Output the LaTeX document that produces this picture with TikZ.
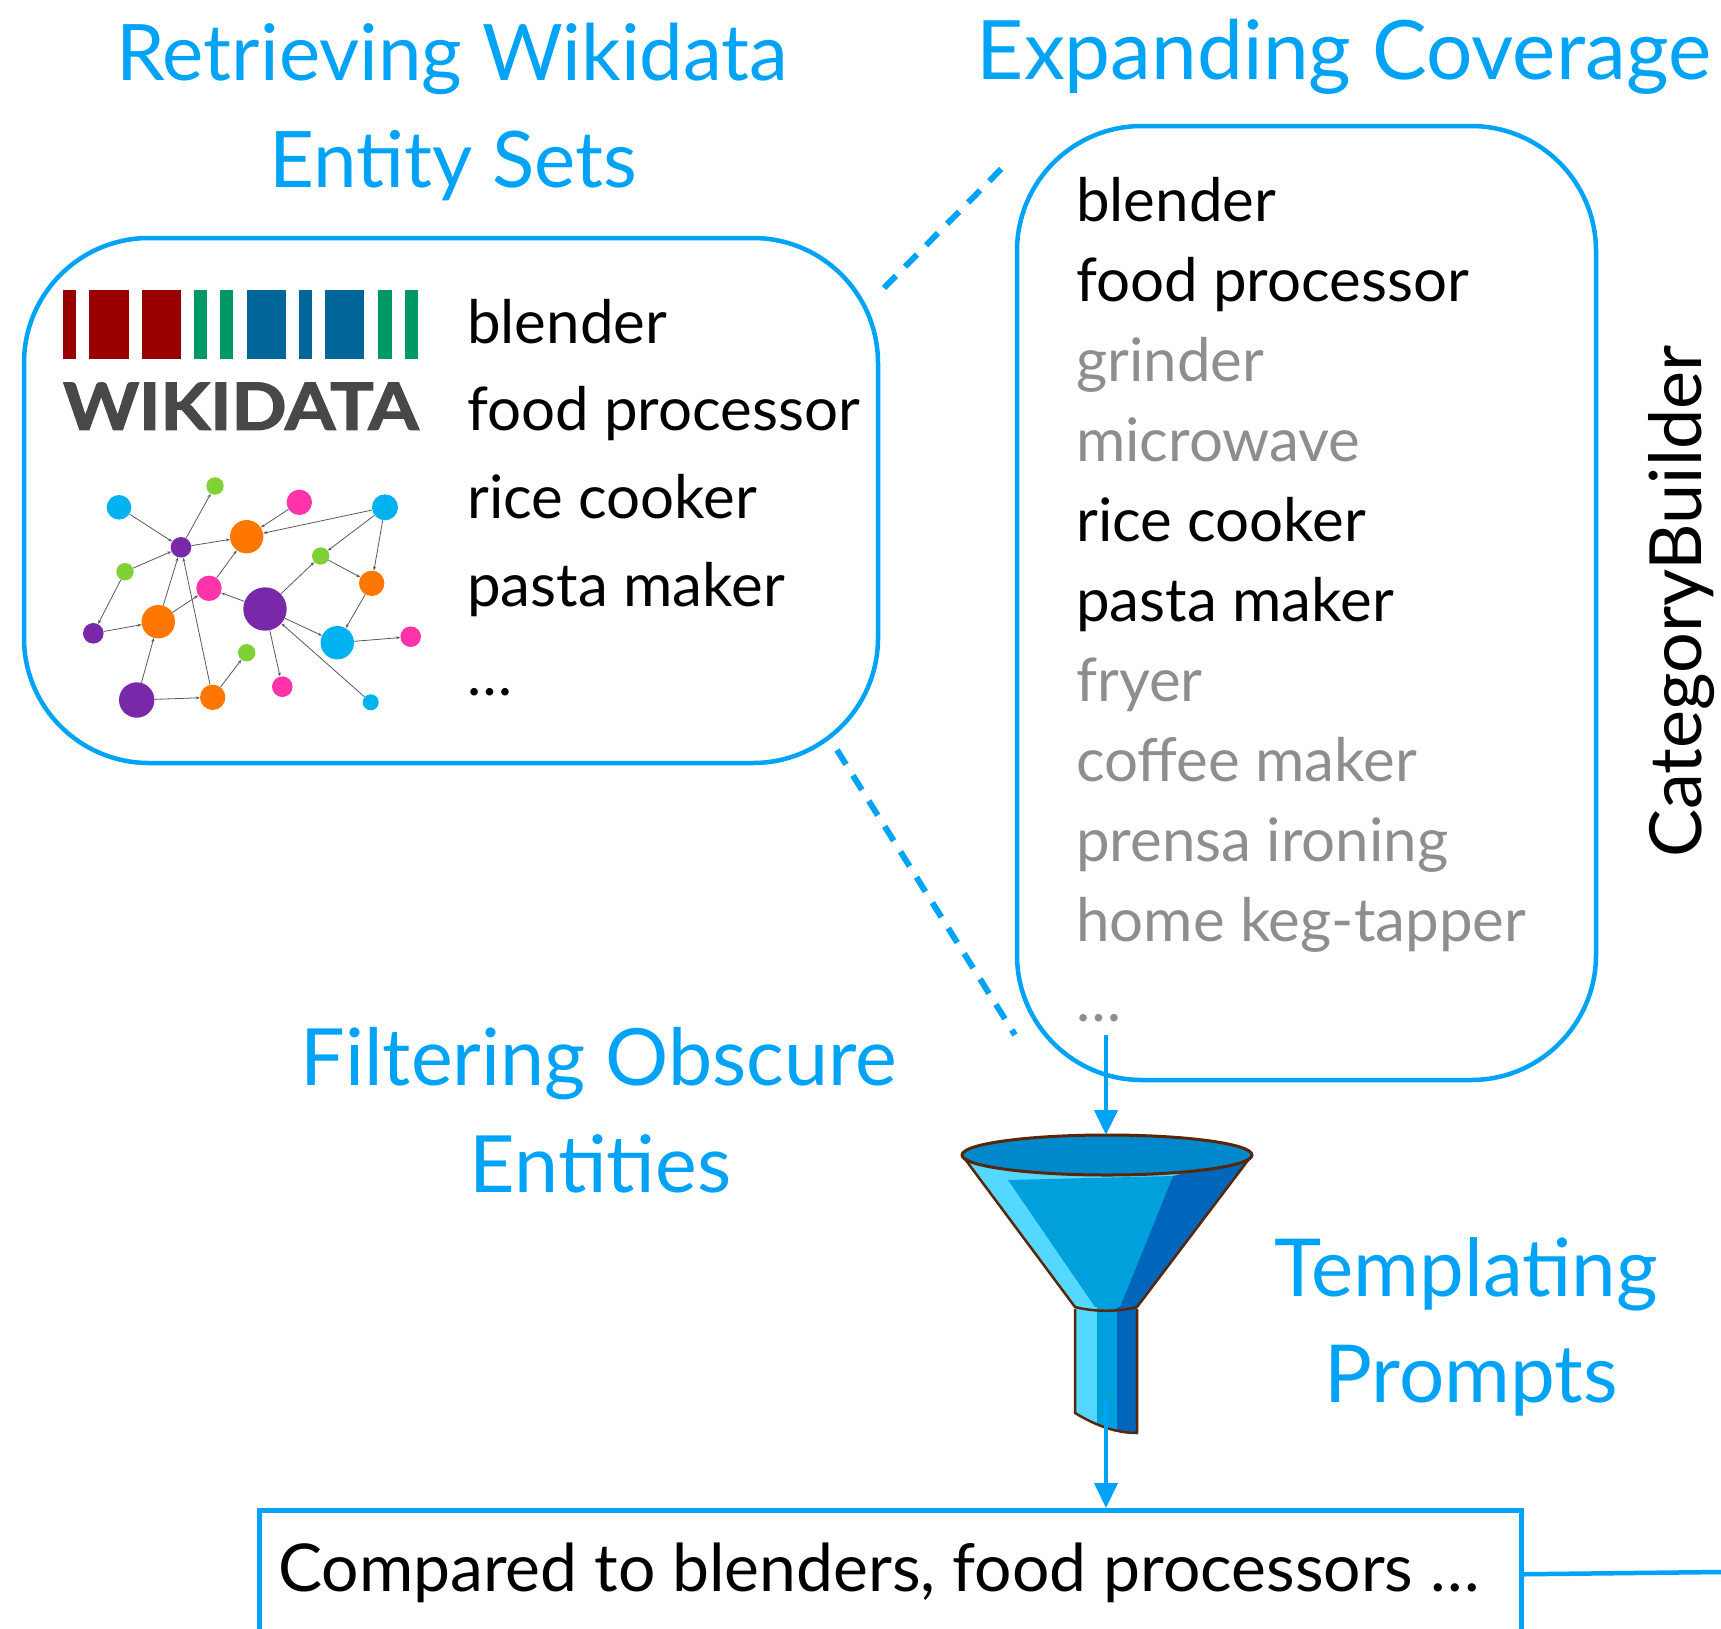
\documentclass[tikz,border=0pt]{standalone}
\usepackage{fontspec}
\usepackage{graphicx}
\setmainfont{Lato}
\newfontfamily\wdfont{Lato}[BoldFeatures={FakeBold=2}]
\usetikzlibrary{arrows.meta}

\definecolor{mainblue}{HTML}{00A3F5}
\definecolor{softgray}{HTML}{8E8E8E}
\definecolor{wdred}{HTML}{990000}
\definecolor{wdgreen}{HTML}{009966}
\definecolor{wdblue}{HTML}{006699}
\definecolor{wdtext}{HTML}{484848}
\definecolor{ncyan}{HTML}{00B2F0}
\definecolor{ngreen}{HTML}{7FD136}
\definecolor{npink}{HTML}{FF33AA}
\definecolor{npurple}{HTML}{7828A8}
\definecolor{norange}{HTML}{FF7700}
\definecolor{fnlight}{HTML}{55D8FF}
\definecolor{fnmid}{HTML}{00A0DC}
\definecolor{fndark}{HTML}{0066BB}
\definecolor{fntop}{HTML}{0088CC}
\definecolor{fnrim}{HTML}{5A2608}

\tikzset{
  title/.style={text=mainblue, font=\fontsize{#1}{90}\selectfont, anchor=base, inner sep=0pt},
  title/.default=78,
  item/.style={font=\fontsize{60}{72}\selectfont, anchor=base west, inner sep=0pt},
  faint/.style={item, text=softgray},
  panel/.style={draw=mainblue, line width=4.5pt, rounded corners=125pt, inner sep=0pt},
  zoomline/.style={draw=mainblue, line width=6pt, dash pattern=on 17pt off 13pt},
  flow/.style={draw=mainblue, line width=4pt, -{Triangle[length=25pt,width=23pt]}},
  gnode/.style={circle, inner sep=0pt, minimum size=#1},
  netedge/.style={draw=black!65, line width=0.8pt, -{Stealth[length=4pt,width=3pt]}},
}

\begin{document}
\begin{tikzpicture}[x=1pt,y=-1pt]
\useasboundingbox (0,0) rectangle (1721,1628);
\clip (0,0) rectangle (1721,1628);

% ---------- headings ----------
\node[title=78] (t1a) at (452.5,80.7) {Retrieving Wikidata};
\node[title=78] (t1b) at (453,187.3) {Entity Sets};
\node[title=82] (t2)  at (1344,79) {Expanding Coverage};
\node[title=79] (t3a) at (599,1085.7) {Filtering Obscure};
\node[title=79] (t3b) at (600.5,1192.3) {Entities};
\node[title=80] (t4a) at (1466,1296) {Templating};
\node[title=80] (t4b) at (1471,1402.3) {Prompts};

% ---------- panels ----------
\node[panel, minimum width=854pt, minimum height=525pt] (src) at (451,500.5) {};
\node[panel, minimum width=579pt, minimum height=954pt] (cover) at (1306.5,603) {};

% zoom lines between the panels
\coordinate (zA1) at (884,288);
\coordinate (zA2) at (1008,162);
\coordinate (zB1) at (837,750);
\coordinate (zB2) at (1015,1035);
\draw[zoomline] (zA1) -- (zA2);
\draw[zoomline] (zB1) -- (zB2);

% ---------- Wikidata logo ----------
\fill[wdred]   (63.3,290) rectangle (76,359);
\fill[wdred]   (89.3,290) rectangle (129,359);
\fill[wdred]   (141.7,290) rectangle (180.7,359);
\fill[wdgreen] (194,290) rectangle (206.7,359);
\fill[wdgreen] (220.3,290) rectangle (233.3,359);
\fill[wdblue]  (246.7,290) rectangle (285.7,359);
\fill[wdblue]  (298.7,290) rectangle (311.7,359);
\fill[wdblue]  (325,290) rectangle (364,359);
\fill[wdgreen] (378.3,290) rectangle (391.7,359);
\fill[wdgreen] (405,290) rectangle (418.3,359);
\node[anchor=south west, inner sep=0pt, text=wdtext] (wdword) at (63,430)
  {\resizebox{355pt}{47pt}{\wdfont\bfseries WIKIDATA}};

% knowledge graph
\node[gnode=24.6pt, fill=ncyan]   (A) at (119,507.3) {};
\node[gnode=17.4pt, fill=ngreen]  (B) at (215,486) {};
\node[gnode=25.4pt, fill=npink]   (C) at (299.3,502.3) {};
\node[gnode=26pt,   fill=ncyan]   (D) at (385,507.3) {};
\node[gnode=20.6pt, fill=npurple] (E) at (181,547.3) {};
\node[gnode=33.4pt, fill=norange] (F) at (246.7,536.7) {};
\node[gnode=17.4pt, fill=ngreen]  (G) at (125,571.7) {};
\node[gnode=17.4pt, fill=ngreen]  (H) at (320.7,556) {};
\node[gnode=25.4pt, fill=npink]   (I) at (209,588.3) {};
\node[gnode=25.4pt, fill=norange] (J) at (371.7,583.3) {};
\node[gnode=43.4pt, fill=npurple] (K) at (265,609) {};
\node[gnode=33.4pt, fill=norange] (L) at (158.3,621.7) {};
\node[gnode=20.6pt, fill=npurple] (M) at (93.3,633.3) {};
\node[gnode=33.4pt, fill=ncyan]   (N) at (337.3,642.7) {};
\node[gnode=20.6pt, fill=npink]   (O) at (410.7,636.7) {};
\node[gnode=17.4pt, fill=ngreen]  (P) at (246.7,652.7) {};
\node[gnode=20.6pt, fill=npink]   (Q) at (282.3,686.7) {};
\node[gnode=16pt,   fill=ncyan]   (R) at (370.7,702.3) {};
\node[gnode=35.4pt, fill=npurple] (S) at (136.7,700) {};
\node[gnode=25.4pt, fill=norange] (T) at (212.7,697.3) {};

\foreach \a/\b in {A/E, E/B, C/F, D/F, E/F, D/H, H/J, D/J, G/E, G/M, M/L, L/E,
                   L/I, I/F, T/E, S/L, S/T, T/P, K/H, K/I, K/N, J/N, N/O, K/Q, R/K}
  \draw[netedge] (\a) -- (\b);

% ---------- entity lists ----------
\node[item] (l1) at (467,343) {blender};
\node[item] (l2) at (467,430.7) {food processor};
\node[item] (l3) at (467,518.5) {rice cooker};
\node[item] (l4) at (467,606.5) {pasta maker};
\node[item] (l5) at (467,695) {…};

\node[item]  (r1)  at (1076,221.7) {blender};
\node[item]  (r2)  at (1076,301.7) {food processor};
\node[faint] (r3)  at (1076,381.7) {grinder};
\node[faint] (r4)  at (1076,461.7) {microwave};
\node[item]  (r5)  at (1076,541.7) {rice cooker};
\node[item]  (r6)  at (1076,621.7) {pasta maker};
\node[faint] (r7)  at (1076,701.7) {fryer};
\node[faint] (r8)  at (1076,781.7) {coffee maker};
\node[faint] (r9)  at (1076,861.7) {prensa ironing};
\node[faint] (r10) at (1076,941.7) {home keg-tapper};
\node[faint] (r11) at (1076,1021.7) {…};

\node[rotate=90, anchor=base, inner sep=0pt, font=\fontsize{72}{84}\selectfont]
  (cb) at (1701,601.5) {CategoryBuilder};

% ---------- funnel ----------
\fill[fnlight] (962,1155) -- (1075,1307) -- (1137,1307) -- (1252,1155) -- cycle;
\fill[fnmid]   (1008,1180) -- (1173,1176) -- (1120,1307) -- (1095,1307) -- cycle;
\fill[fndark]  (1173,1176) -- (1252,1155) -- (1137,1307) -- (1120,1307) -- cycle;
\begin{scope}
  \clip (1075,1307) -- (1075,1413) .. controls (1095,1425) and (1115,1433) .. (1137,1433)
        -- (1137,1307) -- cycle;
  \fill[fnlight] (1070,1300) rectangle (1097,1440);
  \fill[fnmid]   (1097,1300) rectangle (1117,1440);
  \fill[fndark]  (1117,1300) rectangle (1142,1440);
\end{scope}
\draw[fnrim, line width=2.5pt, line join=round]
  (962,1155) -- (1075,1307) .. controls (1095,1312) and (1117,1312) .. (1137,1307) -- (1252,1155);
\draw[fnrim, line width=2.5pt, line join=round]
  (1075,1309) -- (1075,1413) .. controls (1095,1425) and (1115,1433) .. (1137,1433) -- (1137,1309);
\filldraw[fill=fntop, draw=fnrim, line width=3pt] (1107,1155) ellipse [x radius=145, y radius=20];

% ---------- prompt box ----------
\node[draw=mainblue, line width=4.5pt, minimum width=1262pt, minimum height=128pt,
      inner sep=0pt, anchor=north west] (prompt) at (257,1508) {};
\node[item, font=\fontsize{66}{78}\selectfont] (ptext) at (278,1591.7)
  {Compared to blenders, food processors …};
\coordinate (edgeR) at (1721,1572);
\draw[mainblue, line width=4.5pt] (prompt.east) -- (edgeR);

% ---------- flow arrows ----------
\coordinate (dotsout) at (1106,1035);
\coordinate (fnmouth) at (1106,1135);
\coordinate (fnspout) at (1106,1400);
\draw[flow] (dotsout) -- (fnmouth);
\draw[flow] (fnspout) -- (fnspout |- prompt.north);
\end{tikzpicture}
\end{document}
